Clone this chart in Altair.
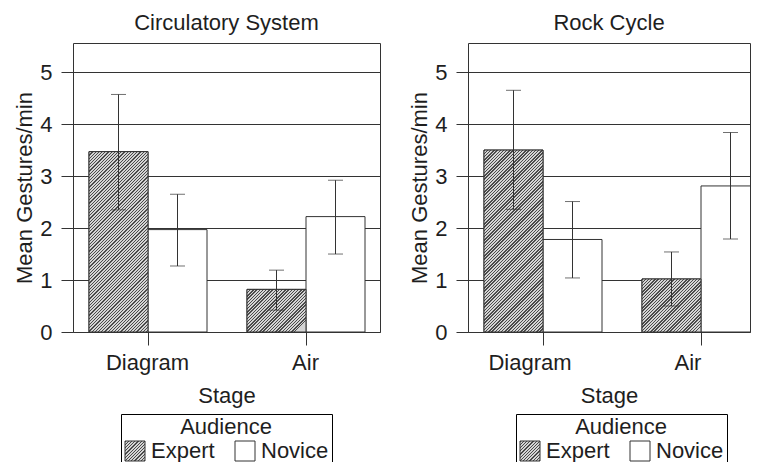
import altair as alt
import pandas as pd

panels = ["Circulatory System", "Rock Cycle"]
stages = ["Diagram", "Air"]
audiences = ["Expert", "Novice"]

# order of each list: Diagram-Expert, Diagram-Novice, Air-Expert, Air-Novice
row_stage = ["Diagram", "Diagram", "Air", "Air"]
row_aud = ["Expert", "Novice", "Expert", "Novice"]

circ_mean = [3.47, 1.97, 0.82, 2.22]
circ_lo = [2.35, 1.27, 0.42, 1.50]
circ_hi = [4.57, 2.65, 1.19, 2.92]

rock_mean = [3.50, 1.78, 1.02, 2.81]
rock_lo = [2.36, 1.04, 0.50, 1.79]
rock_hi = [4.65, 2.51, 1.54, 3.84]

y_ticks = [0, 1, 2, 3, 4, 5]

FONT = "Liberation Sans"
TXT = "#1e1e1e"
LINE = "#333333"
FS = 22

Y_MAX = 5.56
PLOT_H = 289
BAR_W = 59
GROUP_CENTRE = 75   # px from the frame's left edge to the first group's centre
PX_PER_UNIT = PLOT_H / Y_MAX
HATCH_DARK = "#4a4a4a"
HATCH_LIGHT = "#d4d4d4"
HATCH_PERIOD = 3.2   # px along x+y
HATCH_DARK_FRAC = 0.42


def hatch_stops(t_period, t_max):
    stops = []
    t = 0.0
    while t < t_max + t_period:
        a = min(t, 1.0)
        b = min(t + t_period * HATCH_DARK_FRAC, 1.0)
        c = min(t + t_period, 1.0)
        stops += [
            {"offset": round(a, 5), "color": HATCH_DARK},
            {"offset": round(b, 5), "color": HATCH_DARK},
            {"offset": round(b, 5), "color": HATCH_LIGHT},
            {"offset": round(c, 5), "color": HATCH_LIGHT},
        ]
        t += t_period
        if t >= 1.0:
            break
    return stops


def bar_hatch(w, h):
    # 45-degree "/" stripes for a w x h box (objectBoundingBox gradient)
    k = w / (w * w + h * h)
    t_max = (w + h) * k
    return {
        "gradient": "linear", "x1": 0, "y1": 0, "x2": 1, "y2": h / w,
        "stops": hatch_stops(HATCH_PERIOD * k, t_max),
    }


def hatch_expr(w, h):
    g = bar_hatch(w, h)
    stops = ",".join(
        "{offset:%s,color:'%s'}" % (s["offset"], s["color"]) for s in g["stops"]
    )
    return "{gradient:'linear',x1:0,y1:0,x2:1,y2:%s,stops:[%s]}" % (g["y2"], stops)


def panel(title, means, los, his, width, pin, clip):
    df = pd.DataFrame({
        "Stage": row_stage,
        "Audience": row_aud,
        "mean": means,
        "lo": los,
        "hi": his,
    })
    # no outer padding: first band starts at the frame's edge
    step = width / (2 - pin)
    bw = step * (1 - pin)
    x = alt.X(
        "Stage:N",
        sort=stages,
        scale=alt.Scale(domain=stages, paddingInner=pin, paddingOuter=0,
                        align=0.5, round=False),
        axis=alt.Axis(
            title="Stage", labelAngle=0, tickSize=13, tickColor=LINE,
            domain=False, labelFontSize=FS, titleFontSize=FS,
            labelPadding=7, titlePadding=12, labelColor=TXT, titleColor=TXT,
            titleFontWeight="normal", bandPosition=GROUP_CENTRE / bw,
        ),
    )
    xo = alt.XOffset(
        "Audience:N",
        scale=alt.Scale(domain=audiences, paddingInner=0, paddingOuter=0,
                        range=[GROUP_CENTRE - BAR_W, GROUP_CENTRE + BAR_W], round=False),
    )
    y = alt.Y(
        "mean:Q",
        scale=alt.Scale(domain=[0, Y_MAX], nice=False, zero=True),
        axis=alt.Axis(
            title="Mean Gestures/min", values=y_ticks, format="d", grid=True,
            gridColor=LINE, gridOpacity=1, gridWidth=1, tickSize=12,
            tickColor=LINE, domain=False, labelFontSize=FS, titleFontSize=FS,
            labelPadding=9, titlePadding=3, labelColor=TXT, titleColor=TXT,
            titleFontWeight="normal",
        ),
    )
    base = alt.Chart(df)
    bars = base.mark_bar(stroke=LINE, strokeWidth=1, opacity=1, clip=clip).encode(
        x=x,
        xOffset=xo,
        y=y,
        color=alt.Color(
            "Audience:N",
            scale=alt.Scale(
                domain=audiences,
                range=[alt.ExprRef(expr=hatch_expr(20, 20)), "#ffffff"],
            ),
            legend=alt.Legend(
                orient="none", legendX=48, legendY=371, direction="horizontal",
                title="Audience", titleAnchor="middle", titleAlign="center",
                strokeColor="black", fillColor="white", padding=3, cornerRadius=0,
                symbolType="square", symbolSize=400, symbolStrokeColor=LINE,
                symbolStrokeWidth=1, labelFontSize=FS, titleFontSize=FS,
                titleFontWeight="normal", columnPadding=18, labelOffset=5,
                labelColor=TXT, titleColor=TXT, titlePadding=1,
            ),
        ),
    )
    layers = [bars]
    for st, au, m in zip(row_stage, row_aud, means):
        if au != "Expert":
            continue
        g = bar_hatch(BAR_W, m * PX_PER_UNIT)
        layers.append(
            base.transform_filter(
                f"datum.Stage == '{st}' && datum.Audience == '{au}'"
            ).mark_bar(fill=g, stroke=LINE, strokeWidth=1, clip=clip).encode(
                x=x, xOffset=xo, y=y
            )
        )
    rules = base.mark_rule(color=LINE, strokeWidth=1, clip=clip).encode(
        x=x, xOffset=xo, y="lo:Q", y2="hi:Q",
    )
    caps = base.transform_fold(["lo", "hi"], as_=["end", "val"]).mark_tick(
        orient="horizontal", size=15, thickness=1, color=LINE, clip=clip,
    ).encode(x=x, xOffset=xo, y="val:Q")
    layers += [rules, caps]
    return alt.layer(*layers).properties(
        width=width, height=PLOT_H,
        title=alt.Title(title, fontSize=FS, fontWeight="normal", color=TXT, offset=8),
    )


# both panels: band step 158 px, group centres 75 px and 233 px from the frame's left edge
left = panel(panels[0], circ_mean, circ_lo, circ_hi, 307, 0.057, False)
# right panel frame is cropped at the picture's edge
right = panel(panels[1], rock_mean, rock_lo, rock_hi, 282, 0.2152, True)

chart = (
    alt.hconcat(left, right, spacing=27)
    .resolve_scale(color="independent")
    .resolve_legend(color="independent")
    .properties(padding={"left": 5, "top": 3, "right": 0, "bottom": -5})
    .configure(font=FONT)
    .configure_view(stroke=LINE, strokeWidth=1)
)

chart.save("out.html", embed_options={"renderer": "svg", "actions": False})
